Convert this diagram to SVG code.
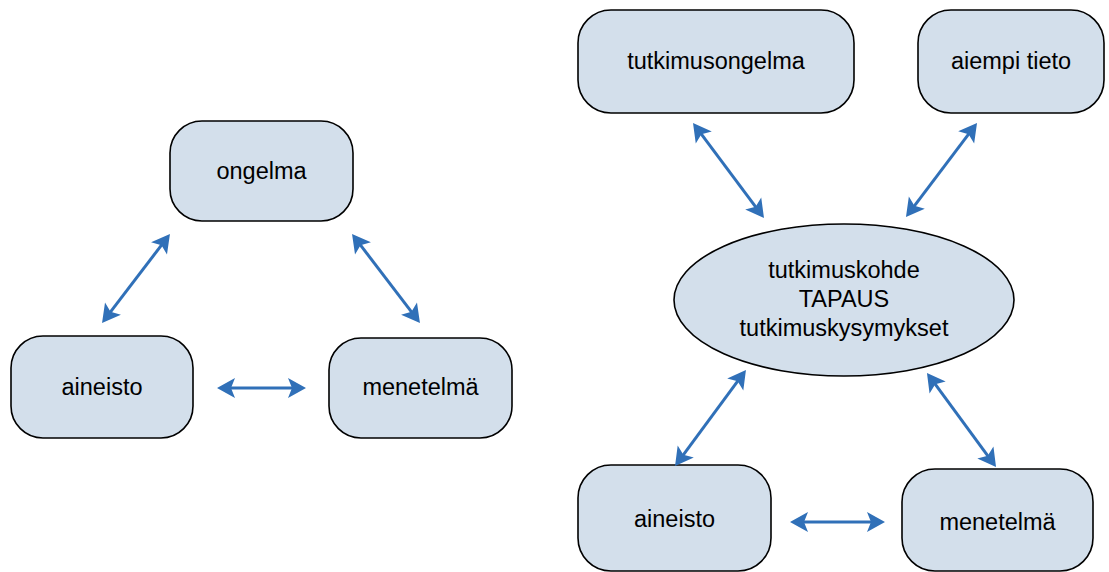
<svg xmlns="http://www.w3.org/2000/svg" width="1109" height="572" viewBox="0 0 1109 572">
  <defs>
    <style>
      .box { fill: #d3dfeb; stroke: #000; stroke-width: 1.6; }
      .lbl { font-family: "Liberation Sans", Arial, sans-serif; font-size: 23.5px; fill: #000; text-anchor: middle; }
      .link { stroke: #3070b8; stroke-width: 3; fill: none; marker-start: url(#head); marker-end: url(#head); }
    </style>
    <marker id="head" markerUnits="userSpaceOnUse" viewBox="-1 -11 21 22" markerWidth="21" markerHeight="22" refX="10" refY="0" orient="auto-start-reverse">
      <path d="M18,0 L0,-10 L4,0 L0,10 Z" fill="#3070b8"/>
    </marker>
  </defs>

  <!-- left triangle -->
  <g id="ongelma">
    <rect class="box" x="170" y="121" width="183" height="100" rx="32" ry="32"/>
    <text class="lbl" x="261.5" y="179">ongelma</text>
  </g>
  <g id="aineisto-left">
    <rect class="box" x="11" y="336" width="182" height="102" rx="32" ry="32"/>
    <text class="lbl" x="102" y="395">aineisto</text>
  </g>
  <g id="menetelma-left">
    <rect class="box" x="329" y="338" width="183" height="100" rx="32" ry="32"/>
    <text class="lbl" x="420.5" y="395">menetelmä</text>
  </g>

  <!-- right network -->
  <g id="tutkimusongelma">
    <rect class="box" x="578" y="10" width="276" height="103" rx="33" ry="33"/>
    <text class="lbl" x="716" y="69">tutkimusongelma</text>
  </g>
  <g id="aiempi-tieto">
    <rect class="box" x="918" y="10" width="186" height="103" rx="33" ry="33"/>
    <text class="lbl" x="1011" y="69">aiempi tieto</text>
  </g>
  <g id="tutkimuskohde">
    <ellipse class="box" cx="844" cy="300" rx="170" ry="76"/>
    <text class="lbl" x="844" y="278">tutkimuskohde</text>
    <text class="lbl" x="844" y="307">TAPAUS</text>
    <text class="lbl" x="844" y="336">tutkimuskysymykset</text>
  </g>
  <g id="aineisto-right">
    <rect class="box" x="578" y="465" width="193" height="106" rx="33" ry="33"/>
    <text class="lbl" x="674.5" y="527">aineisto</text>
  </g>
  <g id="menetelma-right">
    <rect class="box" x="902" y="469" width="191" height="102" rx="33" ry="33"/>
    <text class="lbl" x="997.5" y="530">menetelmä</text>
  </g>

  <!-- two-way connectors -->
  <g id="connectors">
    <line class="link" x1="165.1" y1="240.4" x2="106.9" y2="316.6"/>
    <line class="link" x1="356.9" y1="240.4" x2="415.1" y2="316.6"/>
    <line class="link" x1="225" y1="388" x2="298" y2="388"/>

    <line class="link" x1="697.8" y1="129.4" x2="759.2" y2="211.6"/>
    <line class="link" x1="972.2" y1="129.4" x2="910.8" y2="210.6"/>
    <line class="link" x1="741.2" y1="376.4" x2="679.8" y2="459.6"/>
    <line class="link" x1="931.7" y1="379.4" x2="991.3" y2="460.6"/>
    <line class="link" x1="798" y1="522" x2="877" y2="522"/>
  </g>
</svg>
